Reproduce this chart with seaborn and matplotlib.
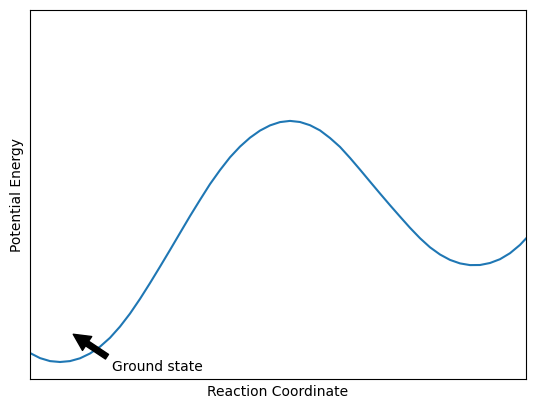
import matplotlib

matplotlib.use("Agg")
import matplotlib.pyplot as plt
import pandas as pd
import seaborn as sns


# curve, arbitrary units (coordinate 0..496, energy 0..369)
reaction_coord = [
    0, 10, 20, 30, 40, 50, 60, 70, 80, 90, 100, 110, 120, 130, 140, 150,
    160, 170, 180, 190, 200, 210, 220, 230, 240, 250, 260, 270, 280, 290,
    300, 310, 320, 330, 340, 350, 360, 370, 380, 390, 400, 410, 420, 430,
    440, 450, 460, 470, 480, 490, 496,
]
energy = [
    26.0, 20.9, 17.9, 17.0, 17.9, 20.7, 25.5, 32.3, 41.2, 52.4, 65.4, 80.1,
    95.9, 112.3, 129.0, 146.0, 162.9, 179.1, 194.9, 208.9, 221.7, 232.4,
    241.3, 248.4, 253.6, 256.9, 258.1, 257.0, 253.8, 248.6, 241.0, 232.1,
    221.1, 209.4, 197.4, 185.5, 173.8, 162.4, 151.2, 140.8, 131.7, 124.5,
    119.1, 115.6, 113.9, 114.0, 116.0, 119.8, 125.8, 134.1, 140.5,
]

label_text = "Ground state"
label_point = (41.2, 46.1)
label_pos = (81.8, 8.1)

df = pd.DataFrame({"coord": reaction_coord, "energy": energy})

fig = plt.figure(figsize=(5.35, 4.09), dpi=100)
ax = fig.add_axes([30 / 535, 30 / 409, 496 / 535, 369 / 409])

sns.lineplot(data=df, x="coord", y="energy", ax=ax, color="tab:blue", linewidth=1.5)

ax.annotate(
    label_text,
    xy=label_point,
    xytext=label_pos,
    arrowprops=dict(facecolor="black", shrink=0.05),
)

ax.set_xlim(0, 496)
ax.set_ylim(0, 369)
ax.set_xticks([])
ax.set_yticks([])
ax.set_xlabel("Reaction Coordinate")
ax.set_ylabel("Potential Energy")

fig.savefig("out.png", dpi=100)
plt.close(fig)
